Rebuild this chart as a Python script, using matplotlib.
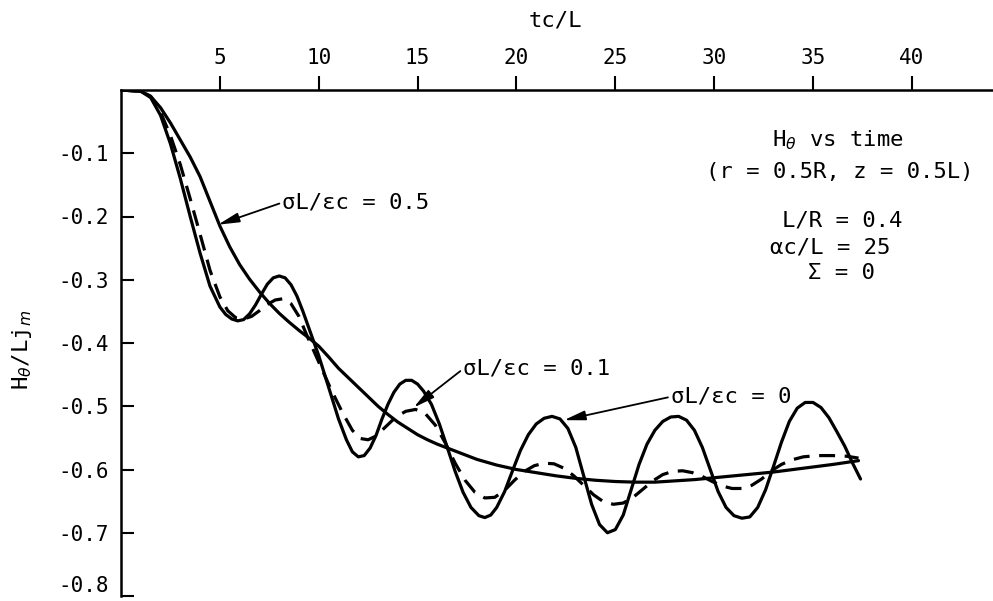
import matplotlib
matplotlib.use("Agg")
import matplotlib.pyplot as plt

# tc/L and H_theta/Lj_m
t_sig0 = [0, 1, 1.5, 2, 2.5, 3, 3.5, 4, 4.5, 5, 5.3, 5.6, 5.9, 6.2, 6.5, 6.8,
          7.1, 7.4, 7.7, 8.0, 8.3, 8.6, 8.9, 9.2, 9.6, 10, 10.5, 11, 11.4, 11.7,
          12, 12.3, 12.6, 12.9, 13.2, 13.5, 13.8, 14.1, 14.4, 14.7, 15.0, 15.3,
          15.7, 16.1, 16.5, 16.9, 17.3, 17.7, 18.1, 18.4, 18.7, 19.0, 19.4,
          19.8, 20.2, 20.6, 21.0, 21.4, 21.8, 22.2, 22.6, 23.0, 23.4, 23.8,
          24.2, 24.6, 25.0, 25.4, 25.8, 26.2, 26.6, 27.0, 27.4, 27.8, 28.2,
          28.6, 29.0, 29.4, 29.8, 30.2, 30.6, 31.0, 31.4, 31.8, 32.2, 32.6,
          33.0, 33.4, 33.8, 34.2, 34.6, 35.0, 35.4, 35.8, 36.2, 36.6, 37.0, 37.4]
h_sig0 = [0, -0.002, -0.012, -0.04, -0.085, -0.14, -0.2, -0.258, -0.31, -0.343,
          -0.355, -0.362, -0.365, -0.363, -0.354, -0.34, -0.323, -0.307, -0.297,
          -0.294, -0.297, -0.308, -0.326, -0.35, -0.385, -0.42, -0.47, -0.52,
          -0.553, -0.572, -0.58, -0.578, -0.566, -0.546, -0.52, -0.497, -0.478,
          -0.465, -0.459, -0.459, -0.465, -0.476, -0.497, -0.528, -0.565, -0.603,
          -0.636, -0.66, -0.673, -0.676, -0.672, -0.66, -0.635, -0.602, -0.57,
          -0.545, -0.528, -0.519, -0.516, -0.52, -0.535, -0.565, -0.61, -0.655,
          -0.687, -0.7, -0.695, -0.672, -0.632, -0.592, -0.56, -0.538, -0.524,
          -0.517, -0.516, -0.522, -0.538, -0.565, -0.6, -0.635, -0.66, -0.673,
          -0.677, -0.675, -0.66, -0.632, -0.595, -0.557, -0.524, -0.503, -0.494,
          -0.494, -0.502, -0.518, -0.54, -0.563, -0.59, -0.615]

t_sig01 = [0, 1, 1.5, 2, 2.5, 3, 3.5, 4, 4.5, 5, 5.4, 5.8, 6.2, 6.6, 7.0, 7.4,
           7.8, 8.2, 8.6, 9.0, 9.4, 10, 10.6, 11.2, 11.7, 12.1, 12.5, 12.9, 13.4,
           13.9, 14.4, 14.9, 15.4, 15.9, 16.4, 16.9, 17.4, 17.9, 18.4, 18.9,
           19.4, 19.9, 20.4, 20.9, 21.4, 21.9, 22.4, 22.9, 23.4, 23.9, 24.4,
           24.9, 25.4, 25.9, 26.4, 26.9, 27.4, 27.9, 28.4, 28.9, 29.4, 29.9,
           30.4, 30.9, 31.4, 31.9, 32.4, 32.9, 33.4, 33.9, 34.5, 35.2, 36, 36.7,
           37.3]
h_sig01 = [0, -0.002, -0.01, -0.035, -0.072, -0.118, -0.172, -0.228, -0.285,
           -0.327, -0.349, -0.36, -0.362, -0.358, -0.349, -0.339, -0.332, -0.33,
           -0.338, -0.358, -0.388, -0.43, -0.472, -0.51, -0.538, -0.551, -0.553,
           -0.547, -0.532, -0.517, -0.508, -0.505, -0.512, -0.53, -0.558, -0.59,
           -0.617, -0.636, -0.645, -0.644, -0.633, -0.617, -0.603, -0.594, -0.59,
           -0.591, -0.598, -0.61, -0.625, -0.64, -0.651, -0.655, -0.653, -0.644,
           -0.631, -0.618, -0.608, -0.603, -0.602, -0.605, -0.611, -0.619, -0.626,
           -0.63, -0.63, -0.625, -0.615, -0.602, -0.592, -0.585, -0.58, -0.578,
           -0.578, -0.579, -0.582]

t_sig05 = [0, 1, 1.5, 2, 2.5, 3, 3.5, 4, 4.5, 5, 5.5, 6, 6.5, 7, 7.5, 8, 8.5,
           9, 9.5, 10, 10.5, 11, 11.5, 12, 12.5, 13, 13.5, 14, 14.5, 15, 15.5,
           16, 17, 18, 19, 20, 21, 22, 23, 24, 25, 26, 27, 28, 29, 30, 31, 32,
           33, 34, 35, 36, 37.3]
h_sig05 = [0, -0.002, -0.01, -0.028, -0.052, -0.079, -0.106, -0.137, -0.176,
           -0.215, -0.248, -0.276, -0.299, -0.319, -0.337, -0.353, -0.367, -0.38,
           -0.392, -0.405, -0.422, -0.44, -0.455, -0.47, -0.485, -0.5, -0.513,
           -0.525, -0.535, -0.545, -0.553, -0.56, -0.572, -0.584, -0.593, -0.6,
           -0.605, -0.61, -0.614, -0.617, -0.619, -0.62, -0.62, -0.618, -0.616,
           -0.613, -0.61, -0.607, -0.604, -0.6, -0.596, -0.592, -0.586]

x_ticks = [5, 10, 15, 20, 25, 30, 35, 40]
y_ticks = [-0.1, -0.2, -0.3, -0.4, -0.5, -0.6, -0.7, -0.8]

plt.rcParams["font.family"] = ["DejaVu Sans Mono", "DejaVu Sans"]
plt.rcParams["axes.unicode_minus"] = False

fig = plt.figure(figsize=(9.93, 6.01), dpi=100)
ax = fig.add_axes([121 / 993, 1 - 596 / 601, 1 - 121 / 993, 506 / 601])

line_kw = dict(color="black", lw=2.3, solid_joinstyle="round",
               solid_capstyle="round")
ax.plot(t_sig0, h_sig0, "-", **line_kw)
ax.plot(t_sig01, h_sig01, "--", dashes=(5, 3), color="black", lw=2.3)
ax.plot(t_sig05, h_sig05, "-", **line_kw)

ax.set_xlim(0, 44.1)
ax.set_ylim(-0.8, 0)

for s in ("right", "bottom"):
    ax.spines[s].set_visible(False)
for s in ("left", "top"):
    ax.spines[s].set_linewidth(1.8)

ax.xaxis.tick_top()
ax.set_xticks(x_ticks)
ax.set_xticklabels([str(v) for v in x_ticks])
ax.tick_params(axis="x", direction="out", length=10, width=1.5, pad=6, labelsize=15)
ax.set_yticks(y_ticks)
ylabels = ax.set_yticklabels([f"{v:.1f}" for v in y_ticks])
ylabels[-1].set_va("bottom")  # keep -0.8 inside the picture
ax.tick_params(axis="y", direction="in", length=9, width=1.5, pad=9, labelsize=15)

fig.text(555 / 993, 1 - 20 / 601, "tc/L", ha="center", va="center", fontsize=16)
fig.text(22 / 993, 1 - 350 / 601, r"H$_\theta$/Lj$_m$", rotation=90,
         ha="center", va="center", fontsize=16)

# parameter block (upper right)
info = [("H$_\\theta$ vs time", 838, 140),
        ("(r = 0.5R, z = 0.5L)", 840, 172),
        ("L/R = 0.4", 842, 220),
        ("\u03b1c/L = 25", 830, 247),
        ("\u03a3 = 0", 841, 273)]
for txt, px, py in info:
    fig.text(px / 993, 1 - py / 601, txt, ha="center", va="center", fontsize=16)

arrow = dict(arrowstyle="-|>,head_length=0.8,head_width=0.18", color="black",
             lw=1.3, relpos=(0, 0.5), shrinkA=0, shrinkB=0)
ax.annotate("\u03c3L/\u03b5c = 0.5", xy=(4.9, -0.213), xytext=(8.15, -0.178),
            ha="left", va="center", fontsize=16, arrowprops=arrow)
ax.annotate("\u03c3L/\u03b5c = 0.1", xy=(14.8, -0.502), xytext=(17.3, -0.441),
            ha="left", va="center", fontsize=16, arrowprops=arrow)
ax.annotate("\u03c3L/\u03b5c = 0", xy=(22.4, -0.522), xytext=(27.8, -0.485),
            ha="left", va="center", fontsize=16, arrowprops=arrow)

fig.savefig("out.png", dpi=100)
